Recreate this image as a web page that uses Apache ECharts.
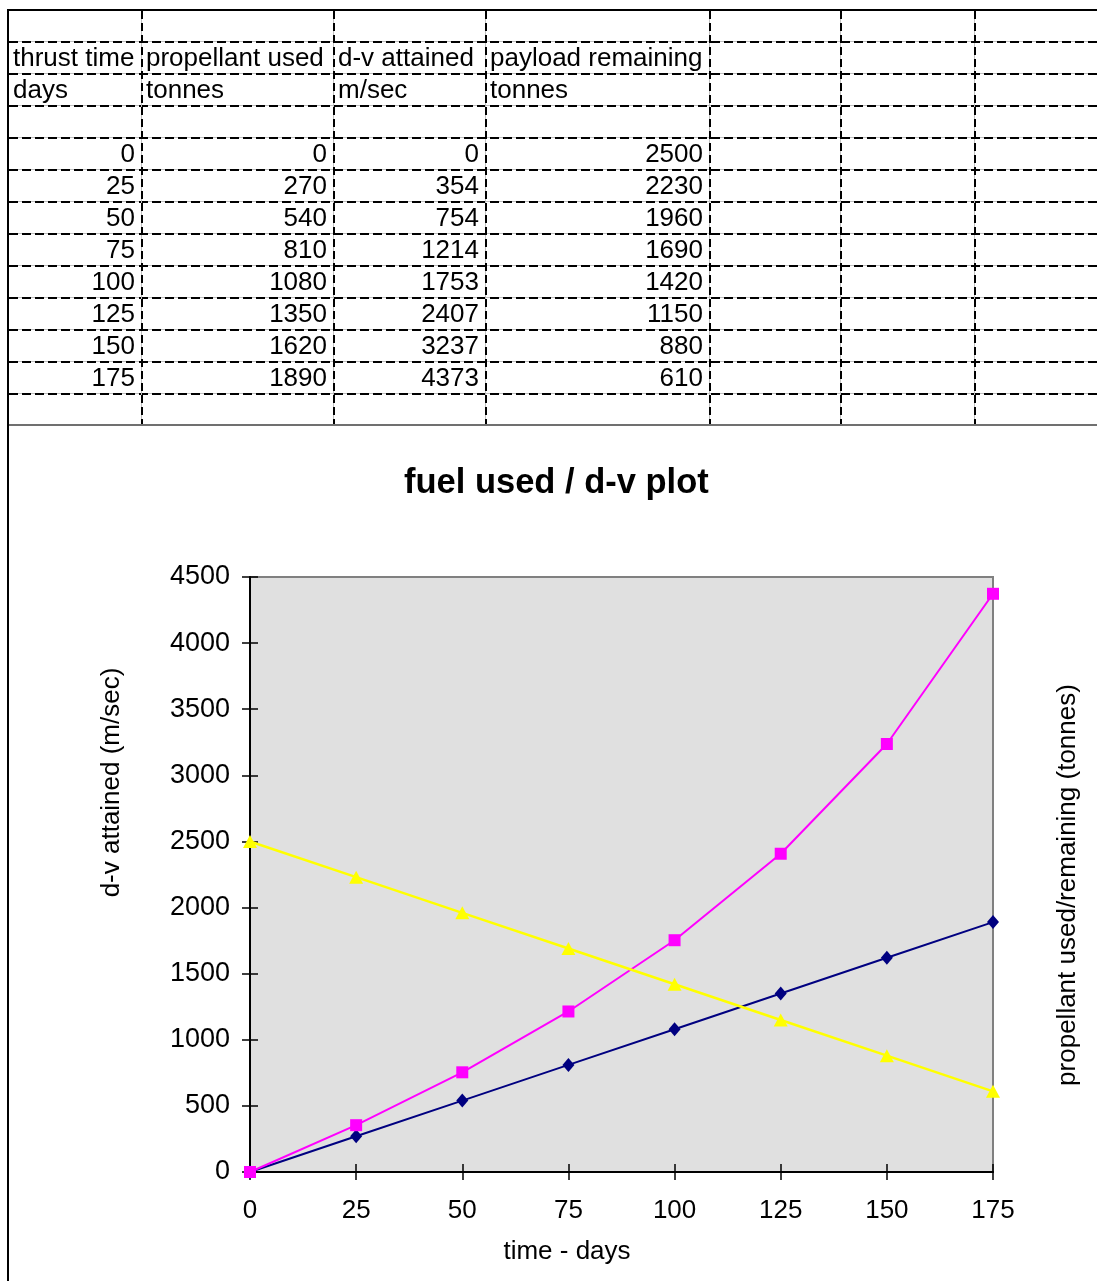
<!DOCTYPE html>
<html>
<head>
<meta charset="utf-8">
<script src="https://cdn.jsdelivr.net/npm/echarts@6/dist/echarts.min.js"></script>
<style>
  html,body{margin:0;padding:0;background:#fff;}
  body{width:1097px;height:1281px;position:relative;overflow:hidden;font-family:"Liberation Sans",Arial,sans-serif;}
  #chart{position:absolute;left:0;top:0;width:1097px;height:1281px;}
  #sheet{position:absolute;left:0;top:0;width:1097px;height:430px;}
  .cell{position:absolute;font-size:26px;line-height:32px;height:32px;color:#000;white-space:nowrap;}
  .hl{position:absolute;height:2px;background:repeating-linear-gradient(90deg,#000 0 9px,transparent 9px 13px);}
  .hg{position:absolute;height:1px;background:#c0c0c0;}
  .vl{position:absolute;width:2px;background:repeating-linear-gradient(180deg,#000 0 8px,transparent 8px 12px);}
  .vg{position:absolute;width:1px;background:#c0c0c0;}
</style>
</head>
<body>
<div id="chart"></div>
<div id="sheet"></div>
<script>
// ---- data ----
const headers = ['thrust time', 'propellant used', 'd-v attained', 'payload remaining'];
const units = ['days', 'tonnes', 'm/sec', 'tonnes'];
const timeDays = [0, 25, 50, 75, 100, 125, 150, 175];
const propellantUsed = [0, 270, 540, 810, 1080, 1350, 1620, 1890];
const dvAttained = [0, 354, 754, 1214, 1753, 2407, 3237, 4373];
const payloadRemaining = [2500, 2230, 1960, 1690, 1420, 1150, 880, 610];
const xTicks = { min: 0, max: 175, interval: 25 };
const yTicks = { min: 0, max: 4500, interval: 500 };
const chartTitle = 'fuel used / d-v plot';
const xName = 'time - days';
const yNameLeft = 'd-v attained (m/sec)';
const yNameRight = 'propellant used/remaining (tonnes)';

// ---- spreadsheet (layout) ----
const colX = [8, 141, 333, 485, 709, 840, 974, 1097];
const rowY = [10, 41, 73, 105, 137, 169, 201, 233, 265, 297, 329, 361, 393, 425];
const sheet = document.getElementById('sheet');
function add(cls, style, text) {
  const d = document.createElement('div');
  d.className = cls;
  Object.assign(d.style, style);
  if (text !== undefined) d.textContent = text;
  sheet.appendChild(d);
}
// gridlines
for (let i = 1; i < rowY.length - 1; i++) {
  add('hg', { left: '9px', width: '1088px', top: rowY[i] + 'px' });
  add('hl', { left: '9px', width: '1088px', top: (rowY[i] - 0.5) + 'px' });
}
for (let j = 1; j < colX.length - 1; j++) {
  add('vg', { left: colX[j] + 'px', top: '11px', height: (rowY[rowY.length - 1] - 11) + 'px' });
  add('vl', { left: (colX[j] - 0.5) + 'px', top: '11px', height: (rowY[rowY.length - 1] - 11) + 'px' });
}
// bottom line of the sheet area
add('hg', { left: '9px', width: '1088px', top: '424px', height: '2px', background: '#707070' });
// page borders
add('hg', { left: '7px', width: '1090px', top: '9px', height: '2px', background: '#000' });
add('hg', { left: '7px', width: '2px', top: '9px', height: '1272px', background: '#000' });
// text cells
function textCell(row, col, text, align) {
  const left = colX[col], right = colX[col + 1];
  const st = { top: rowY[row] + 'px' };
  if (align === 'right') { st.right = (1097 - right + 6) + 'px'; }
  else { st.left = (left + 5) + 'px'; }
  add('cell', st, text);
}
headers.forEach((h, c) => textCell(1, c, h, 'left'));
units.forEach((u, c) => textCell(2, c, u, 'left'));
timeDays.forEach((t, i) => {
  textCell(4 + i, 0, String(t), 'right');
  textCell(4 + i, 1, String(propellantUsed[i]), 'right');
  textCell(4 + i, 2, String(dvAttained[i]), 'right');
  textCell(4 + i, 3, String(payloadRemaining[i]), 'right');
});

// ---- chart ----
const FONT = '"Liberation Sans", Arial, sans-serif';
const chart = echarts.init(document.getElementById('chart'), null, { renderer: 'canvas' });
const pairs = (ys) => timeDays.map((t, i) => [t, ys[i]]);
const tickStyle = { color: '#000', width: 1.5 };
const plain = (v) => String(v);
const option = {
  animation: false,
  backgroundColor: 'transparent',
  title: {
    text: chartTitle, left: 404, top: 466, padding: 0,
    textStyle: { fontFamily: FONT, fontSize: 34.5, fontWeight: 'bold', color: '#000' }
  },
  grid: {
    left: 250, top: 577, width: 743, height: 595,
    show: true, backgroundColor: '#e0e0e0', borderColor: '#808080', borderWidth: 2,
    containLabel: false, outerBoundsMode: 'none'
  },
  xAxis: [
    {
      type: 'value', min: xTicks.min, max: xTicks.max, interval: xTicks.interval, position: 'bottom',
      axisLine: { show: true, onZero: false, lineStyle: { color: '#000', width: 2 } },
      axisTick: { show: true, inside: false, length: 8, lineStyle: tickStyle },
      axisLabel: { show: true, margin: 26, fontSize: 26, color: '#000', fontFamily: FONT, formatter: plain },
      splitLine: { show: false },
      name: xName, nameLocation: 'middle', nameGap: 67, nameMoveOverlap: false,
      nameTextStyle: { fontSize: 26, color: '#000', fontFamily: FONT, padding: [0, 109, 0, 0] }
    },
    {
      type: 'value', min: xTicks.min, max: xTicks.max, interval: xTicks.interval, position: 'bottom',
      axisLine: { show: false, onZero: false },
      axisTick: { show: true, inside: true, length: 8, lineStyle: tickStyle },
      axisLabel: { show: false }, splitLine: { show: false }
    }
  ],
  yAxis: [
    {
      type: 'value', min: yTicks.min, max: yTicks.max, interval: yTicks.interval, position: 'left',
      axisLine: { show: true, onZero: false, lineStyle: { color: '#000', width: 2 } },
      axisTick: { show: true, inside: false, length: 8, lineStyle: tickStyle },
      axisLabel: { show: true, margin: 20, fontSize: 27, color: '#000', fontFamily: FONT, formatter: plain },
      splitLine: { show: false },
      name: yNameLeft, nameLocation: 'middle', nameGap: 125, nameRotate: 90, nameMoveOverlap: false,
      nameTextStyle: { fontSize: 26, color: '#000', fontFamily: FONT, padding: [0, 0, 0, 184] }
    },
    {
      type: 'value', min: yTicks.min, max: yTicks.max, interval: yTicks.interval, position: 'left',
      axisLine: { show: false, onZero: false },
      axisTick: { show: true, inside: true, length: 8, lineStyle: tickStyle },
      axisLabel: { show: false }, splitLine: { show: false }
    },
    {
      type: 'value', min: yTicks.min, max: yTicks.max, interval: yTicks.interval, position: 'right',
      axisLine: { show: false }, axisTick: { show: false }, axisLabel: { show: false }, splitLine: { show: false },
      name: yNameRight, nameLocation: 'middle', nameGap: 62, nameRotate: 90, nameMoveOverlap: false,
      nameTextStyle: { fontSize: 26, color: '#000', fontFamily: FONT, padding: [0, 21, 0, 0] }
    }
  ],
  series: [
    {
      name: 'propellant used', type: 'line', data: pairs(propellantUsed), clip: false,
      symbol: 'diamond', symbolSize: [12, 14], showAllSymbol: true,
      itemStyle: { color: '#000080' }, lineStyle: { color: '#000080', width: 2 }
    },
    {
      name: 'd-v attained', type: 'line', data: pairs(dvAttained), clip: false,
      symbol: 'rect', symbolSize: 12, showAllSymbol: true,
      itemStyle: { color: '#ff00ff' }, lineStyle: { color: '#ff00ff', width: 2 }
    },
    {
      name: 'payload remaining', type: 'line', data: pairs(payloadRemaining), clip: false,
      symbol: 'triangle', symbolSize: [14, 13], showAllSymbol: true,
      itemStyle: { color: '#ffff00' }, lineStyle: { color: '#ffff00', width: 2.5 }
    }
  ]
};
chart.setOption(option);
</script>
</body>
</html>
